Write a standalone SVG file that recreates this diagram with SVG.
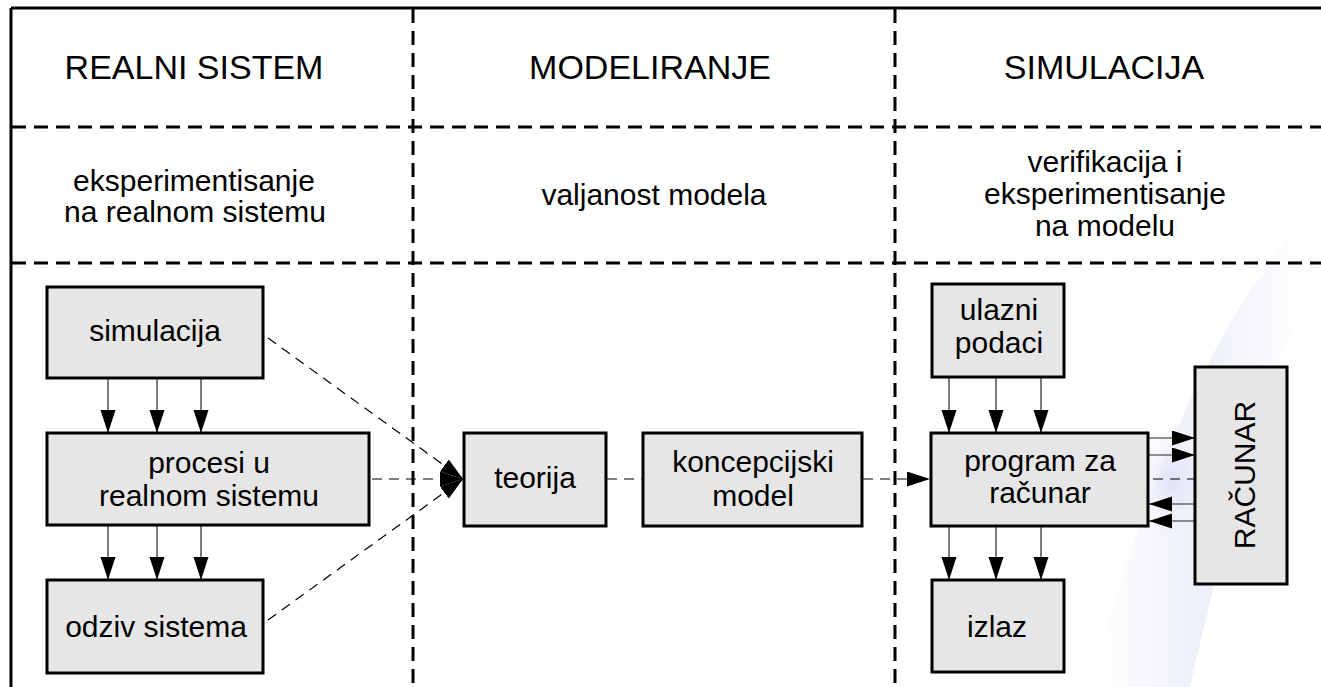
<svg xmlns="http://www.w3.org/2000/svg" width="1321" height="687" viewBox="0 0 1321 687">
  <defs>
    <marker id="arr" markerUnits="userSpaceOnUse" markerWidth="24" markerHeight="16" refX="23" refY="7.5" orient="auto">
      <path d="M0,0 L23,7.5 L0,15 z" fill="#000"/>
    </marker>
    <linearGradient id="swoosh" x1="0" y1="0" x2="1" y2="0">
      <stop offset="0" stop-color="#e3e7f6" stop-opacity="0"/>
      <stop offset="0.5" stop-color="#dfe4f5" stop-opacity="0.55"/>
      <stop offset="1" stop-color="#eef1fa" stop-opacity="0"/>
    </linearGradient>
    <radialGradient id="glow" cx="0.5" cy="0.5" r="0.5">
      <stop offset="0" stop-color="#dcdcf8" stop-opacity="0.8"/>
      <stop offset="1" stop-color="#eeeefc" stop-opacity="0"/>
    </radialGradient>
    <style>
      .border { stroke: #000; stroke-width: 3; fill: none; }
      .grid { stroke: #000; stroke-width: 3; stroke-dasharray: 14 8; fill: none; }
      .box { fill: #e6e6e6; stroke: #000; stroke-width: 3; }
      .conn { stroke: #222; stroke-width: 1.2; fill: none; }
      .dash { stroke: #000; stroke-width: 1.2; stroke-dasharray: 10 7; fill: none; }
      .arrow { marker-end: url(#arr); }
      text { font-family: "Liberation Sans", Arial, sans-serif; fill: #000; text-anchor: middle; }
      .head { font-size: 34px; }
      .lbl { font-size: 30px; }
    </style>
  </defs>

  <rect width="1321" height="687" fill="#fff"/>
  <!-- faint background swoosh -->
  <path d="M1321,200 C1230,300 1160,430 1090,687 L1190,687 C1240,470 1280,330 1321,280 z" fill="url(#swoosh)"/>
  <ellipse cx="1172" cy="480" rx="40" ry="60" fill="url(#glow)"/>

  <!-- table grid -->
  <g id="grid">
    <line class="border" x1="11" y1="8" x2="1321" y2="8"/>
    <line class="border" x1="11" y1="8" x2="11" y2="687"/>
    <line class="grid" x1="413" y1="9" x2="413" y2="687"/>
    <line class="grid" x1="895" y1="9" x2="895" y2="687"/>
    <line class="grid" x1="12" y1="127" x2="1321" y2="127"/>
    <line class="grid" x1="12" y1="263" x2="1321" y2="263"/>
  </g>

  <!-- headers -->
  <g id="headers">
    <text class="head" x="194" y="79">REALNI SISTEM</text>
    <text class="head" x="650" y="79">MODELIRANJE</text>
    <text class="head" x="1104" y="79">SIMULACIJA</text>
    <text class="lbl" x="194" y="191">eksperimentisanje</text>
    <text class="lbl" x="195" y="222">na realnom sistemu</text>
    <text class="lbl" x="654" y="205">valjanost modela</text>
    <text class="lbl" x="1105" y="172">verifikacija i</text>
    <text class="lbl" x="1105" y="204">eksperimentisanje</text>
    <text class="lbl" x="1105" y="236">na modelu</text>
  </g>

  <!-- connectors -->
  <g id="connectors">
    <line class="conn arrow" x1="108" y1="379" x2="108" y2="433"/>
    <line class="conn arrow" x1="157" y1="379" x2="157" y2="433"/>
    <line class="conn arrow" x1="201" y1="379" x2="201" y2="433"/>
    <line class="conn arrow" x1="108" y1="526" x2="108" y2="580"/>
    <line class="conn arrow" x1="157" y1="526" x2="157" y2="580"/>
    <line class="conn arrow" x1="201" y1="526" x2="201" y2="580"/>

    <line class="dash arrow" x1="268" y1="338" x2="463" y2="479"/>
    <line class="dash arrow" x1="372" y1="479" x2="463" y2="479"/>
    <line class="dash arrow" x1="268" y1="620" x2="463" y2="479"/>
    <line class="dash" x1="607" y1="479" x2="642" y2="479"/>
    <line class="dash arrow" x1="863" y1="479" x2="930" y2="479"/>

    <line class="conn arrow" x1="949" y1="378" x2="949" y2="433"/>
    <line class="conn arrow" x1="996" y1="378" x2="996" y2="433"/>
    <line class="conn arrow" x1="1041" y1="378" x2="1041" y2="433"/>
    <line class="conn arrow" x1="949" y1="527" x2="949" y2="580"/>
    <line class="conn arrow" x1="996" y1="527" x2="996" y2="580"/>
    <line class="conn arrow" x1="1041" y1="527" x2="1041" y2="580"/>

    <line class="conn arrow" x1="1149" y1="438" x2="1195" y2="438"/>
    <line class="conn arrow" x1="1149" y1="455" x2="1195" y2="455"/>
    <line class="dash" x1="1153" y1="479" x2="1194" y2="479"/>
    <line class="conn arrow" x1="1195" y1="504" x2="1149" y2="504"/>
    <line class="conn arrow" x1="1195" y1="521" x2="1149" y2="521"/>
  </g>

  <!-- nodes -->
  <g id="simulacija">
    <rect class="box" x="47" y="287" width="216" height="91"/>
    <text class="lbl" x="155" y="341">simulacija</text>
  </g>
  <g id="procesi">
    <rect class="box" x="47" y="433" width="322" height="92"/>
    <text class="lbl" x="209" y="473">procesi u</text>
    <text class="lbl" x="209" y="506">realnom sistemu</text>
  </g>
  <g id="odziv">
    <rect class="box" x="47" y="580" width="216" height="93"/>
    <text class="lbl" x="156" y="637">odziv sistema</text>
  </g>
  <g id="teorija">
    <rect class="box" x="464" y="433" width="142" height="93"/>
    <text class="lbl" x="535" y="488">teorija</text>
  </g>
  <g id="koncepcijski">
    <rect class="box" x="643" y="433" width="219" height="93"/>
    <text class="lbl" x="753" y="472">koncepcijski</text>
    <text class="lbl" x="753" y="506">model</text>
  </g>
  <g id="ulazni">
    <rect class="box" x="932" y="284" width="132" height="93"/>
    <text class="lbl" x="999" y="320">ulazni</text>
    <text class="lbl" x="999" y="353">podaci</text>
  </g>
  <g id="program">
    <rect class="box" x="931" y="433" width="217" height="93"/>
    <text class="lbl" x="1040" y="471">program za</text>
    <text class="lbl" x="1040" y="503">računar</text>
  </g>
  <g id="izlaz">
    <rect class="box" x="932" y="580" width="132" height="92"/>
    <text class="lbl" x="997" y="637">izlaz</text>
  </g>
  <g id="racunar">
    <rect class="box" x="1195" y="367" width="92" height="217"/>
    <text class="lbl" transform="translate(1255,475) rotate(-90)">RAČUNAR</text>
  </g>
</svg>
